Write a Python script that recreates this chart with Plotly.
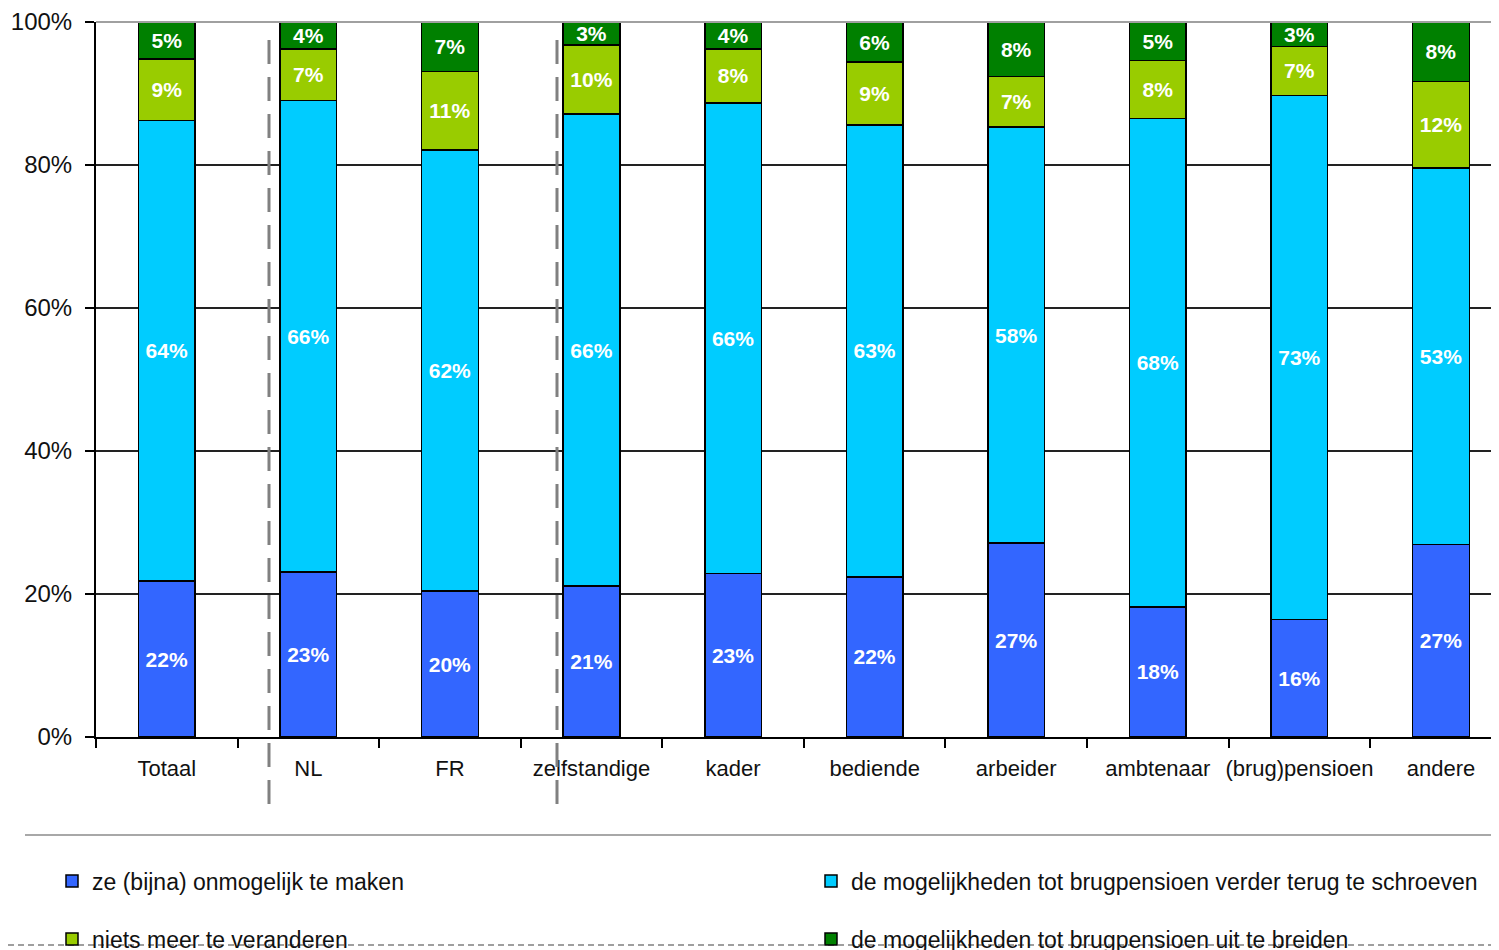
import plotly.graph_objects as go

categories = ["Totaal", "NL", "FR", "zelfstandige", "kader", "bediende",
              "arbeider", "ambtenaar", "(brug)pensioen", "andere"]

onmogelijk = [21.8, 23.1, 20.4, 21.1, 22.9, 22.4, 27.1, 18.2, 16.4, 26.9]
terugschroeven = [64.4, 65.9, 61.7, 66.0, 65.8, 63.2, 58.2, 68.3, 73.3, 52.7]
niets = [8.6, 7.2, 11.0, 9.7, 7.5, 8.8, 7.1, 8.1, 6.9, 12.1]
uitbreiden = [5.2, 3.8, 6.9, 3.2, 3.8, 5.6, 7.6, 5.4, 3.4, 8.3]

series_names = [
    "ze (bijna) onmogelijk te maken",
    "de mogelijkheden tot brugpensioen verder terug te schroeven",
    "niets meer te veranderen",
    "de mogelijkheden tot brugpensioen uit te breiden",
]
series_values = [onmogelijk, terugschroeven, niets, uitbreiden]
series_colors = ["#3366FF", "#00CCFF", "#99CC00", "#008000"]
legend_refs = ["legend", "legend2", "legend3", "legend4"]

y_ticks = [0, 20, 40, 60, 80, 100]
y_tick_labels = ["0%", "20%", "40%", "60%", "80%", "100%"]

FONT = "Liberation Sans, Arial, sans-serif"

fig = go.Figure()
for name, vals, col, lg in zip(series_names, series_values, series_colors, legend_refs):
    fig.add_trace(go.Bar(
        x=categories, y=vals, name=name,
        marker=dict(color=col, line=dict(color="black", width=1.5)),
        text=[f"{round(v):d}%" for v in vals],
        textposition="inside", insidetextanchor="middle", textangle=0,
        textfont=dict(family=FONT, size=21, color="white", weight="bold"),
        legend=lg, showlegend=True,
        hoverinfo="skip",
    ))

# the page body adds an 8px offset; work in page pixels and convert
OFF = 8
W, H = 1499 - OFF, 950 - OFF
L, R, T, B = 96 - OFF, 0, 22 - OFF, 950 - 737
pw = W - L - R
ph = H - T - B

def px_to_paper_x(px):
    return (px - OFF - L) / pw

def py_to_paper_y(py):
    return (H - B - (py - OFF)) / ph

shapes = []
# dashed separators
for xpx in (269, 557):
    shapes.append(dict(type="line", xref="paper", yref="paper",
                       x0=px_to_paper_x(xpx), x1=px_to_paper_x(xpx),
                       y0=py_to_paper_y(40), y1=py_to_paper_y(806),
                       line=dict(color="#808080", width=3, dash="24px,13px"),
                       layer="above"))
# top border of plot area
shapes.append(dict(type="line", xref="paper", yref="paper",
                   x0=0, x1=1, y0=1, y1=1,
                   line=dict(color="#A0A0A0", width=2), layer="above"))
# separator between plot and legend
shapes.append(dict(type="line", xref="paper", yref="paper",
                   x0=px_to_paper_x(25), x1=1, y0=py_to_paper_y(835), y1=py_to_paper_y(835),
                   line=dict(color="#A8A8A8", width=2)))
# bottom dashed border
shapes.append(dict(type="line", xref="paper", yref="paper",
                   x0=px_to_paper_x(OFF), x1=1, y0=py_to_paper_y(945), y1=py_to_paper_y(945),
                   line=dict(color="#808080", width=1.5, dash="6px,4px")))

def legend_at(xpx, ypx):
    return dict(
        orientation="h", xanchor="left", yanchor="middle",
        x=px_to_paper_x(xpx), y=py_to_paper_y(ypx),
        font=dict(family=FONT, size=23, color="#111111"),
        bgcolor="rgba(0,0,0,0)", itemwidth=30, visible=True,
    )

fig.update_layout(
    width=W, height=H,
    margin=dict(l=L, r=R, t=T, b=B, autoexpand=False),
    plot_bgcolor="white", paper_bgcolor="white",
    barmode="stack", bargap=0.6, showlegend=True,
    font=dict(family=FONT, size=22, color="#111111"),
    xaxis=dict(
        type="category", range=[-0.5, 9.41],
        showline=True, linecolor="black", linewidth=2,
        ticks="outside", tickson="boundaries", ticklen=9, tickwidth=2, tickcolor="black",
        tickfont=dict(family=FONT, size=22, color="#111111"),
        tickangle=0, ticklabelstandoff=11,
        showgrid=False, zeroline=False,
    ),
    yaxis=dict(
        range=[0, 100], tickvals=y_ticks, ticktext=y_tick_labels,
        showline=True, linecolor="black", linewidth=2,
        ticks="outside", ticklen=9, tickwidth=2, tickcolor="black",
        tickfont=dict(family=FONT, size=24, color="#111111"),
        ticklabelstandoff=8,
        showgrid=True, gridcolor="#222222", gridwidth=1.5, zeroline=False,
    ),
    legend=legend_at(52, 881),
    legend2=legend_at(811, 881),
    legend3=legend_at(52, 939),
    legend4=legend_at(811, 939),
    uniformtext=dict(mode="show", minsize=21),
    shapes=shapes,
)

fig.write_html("out.html")
